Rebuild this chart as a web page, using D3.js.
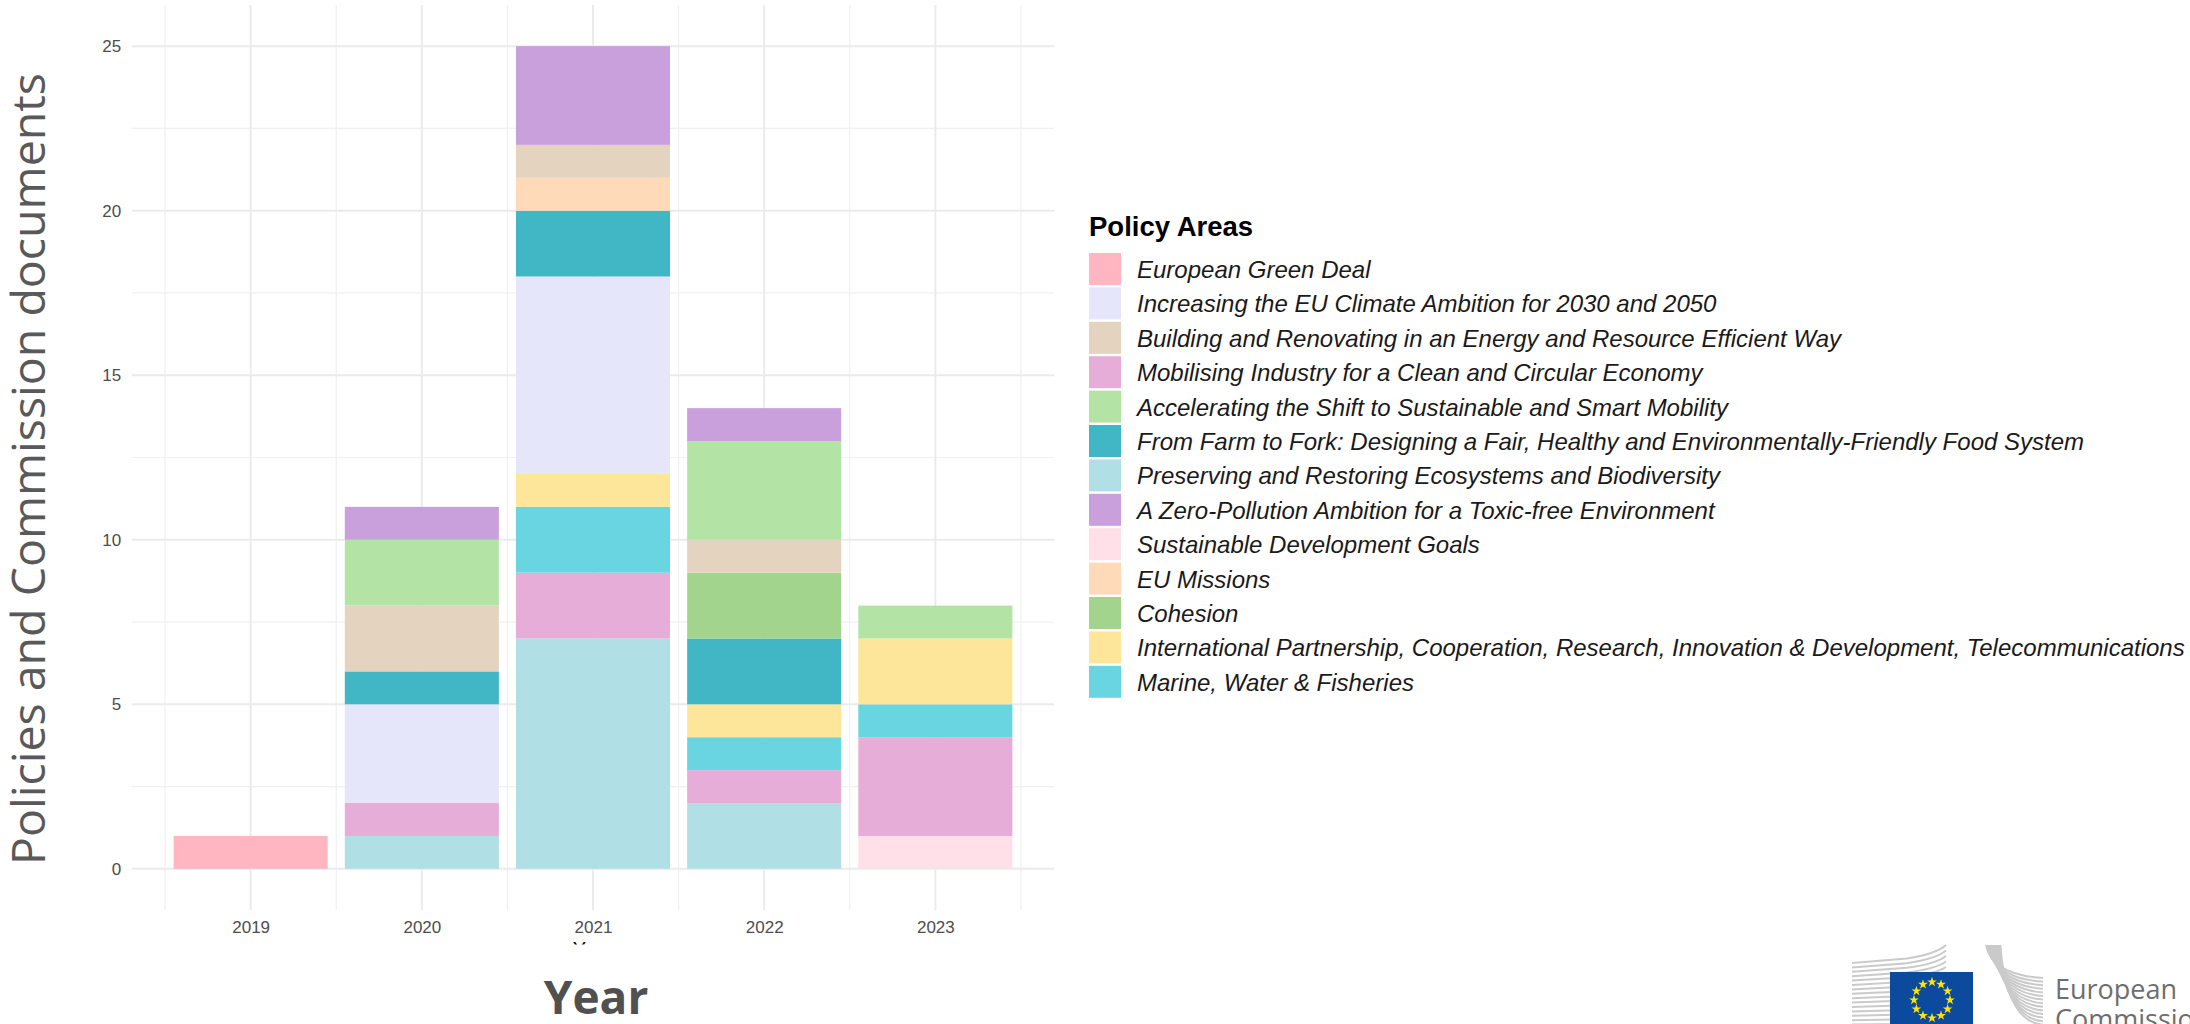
<!DOCTYPE html>
<meta charset="utf-8">
<style>
  body { margin: 0; background: #fff; }
  .tick text { font-family: "Liberation Sans", Arial, sans-serif; }
</style>
<body>
<script src="https://cdn.jsdelivr.net/npm/d3@7/dist/d3.min.js"></script>
<script>
  // legend order (as in the reference)
  var areas = [
    "European Green Deal",
    "Increasing the EU Climate Ambition for 2030 and 2050",
    "Building and Renovating in an Energy and Resource Efficient Way",
    "Mobilising Industry for a Clean and Circular Economy",
    "Accelerating the Shift to Sustainable and Smart Mobility",
    "From Farm to Fork: Designing a Fair, Healthy and Environmentally-Friendly Food System",
    "Preserving and Restoring Ecosystems and Biodiversity",
    "A Zero-Pollution Ambition for a Toxic-free Environment",
    "Sustainable Development Goals",
    "EU Missions",
    "Cohesion",
    "International Partnership, Cooperation, Research, Innovation & Development, Telecommunications",
    "Marine, Water & Fisheries"
  ];
  var colors = ["#FFB6C1", "#E6E6FA", "#E3D3BF", "#E6ADD8", "#B4E3A6", "#41B6C4", "#B0E0E6",
                "#C9A0DC", "#FFDFE8", "#FFDAB9", "#A3D48D", "#FDE699", "#68D5E1"];

  var years = [2019, 2020, 2021, 2022, 2023];

  // documents per year, one array per policy area (same order as areas)
  var counts = [
    [1, 0, 0, 0, 0],
    [0, 3, 6, 0, 0],
    [0, 2, 1, 1, 0],
    [0, 1, 2, 1, 3],
    [0, 2, 0, 3, 1],
    [0, 1, 2, 2, 0],
    [0, 1, 7, 2, 0],
    [0, 1, 3, 1, 0],
    [0, 0, 0, 0, 1],
    [0, 0, 1, 0, 0],
    [0, 0, 0, 2, 0],
    [0, 0, 1, 1, 2],
    [0, 0, 2, 1, 1]
  ];

  var yTicks = [0, 5, 10, 15, 20, 25];

  // ggplot stacks factor levels alphabetically, first level on top
  var stackOrder = areas.slice().sort(function (a, b) { return a < b ? -1 : a > b ? 1 : 0; }).reverse();

  var W = 2190, H = 1024;
  var svg = d3.select("body").append("svg").attr("width", W).attr("height", H);

  var panel = { left: 131.7, right: 1054.3, top: 5, bottom: 910 };

  var x = d3.scaleLinear().domain([2018.305, 2023.695]).range([panel.left, panel.right]);
  var y = d3.scaleLinear().domain([-1.25, 26.25]).range([panel.bottom, panel.top]);
  var color = d3.scaleOrdinal().domain(areas).range(colors);

  var g = svg.append("g");

  // grid: minor first, then major
  var minorY = d3.range(2.5, 26, 5);
  var minorX = years.map(function (d) { return d - 0.5; }).concat([2023.5]);

  g.selectAll(".minor-y").data(minorY).enter().append("line")
    .attr("x1", panel.left).attr("x2", panel.right)
    .attr("y1", y).attr("y2", y)
    .attr("stroke", "#f0f0f0").attr("stroke-width", 1.2);
  g.selectAll(".minor-x").data(minorX).enter().append("line")
    .attr("y1", panel.top).attr("y2", panel.bottom)
    .attr("x1", x).attr("x2", x)
    .attr("stroke", "#f0f0f0").attr("stroke-width", 1.2);
  g.selectAll(".major-y").data(yTicks).enter().append("line")
    .attr("x1", panel.left).attr("x2", panel.right)
    .attr("y1", y).attr("y2", y)
    .attr("stroke", "#ebebeb").attr("stroke-width", 2);
  g.selectAll(".major-x").data(years).enter().append("line")
    .attr("y1", panel.top).attr("y2", panel.bottom)
    .attr("x1", x).attr("x2", x)
    .attr("stroke", "#ebebeb").attr("stroke-width", 2);

  // stacked bars
  var table = years.map(function (yr, i) {
    var row = { year: yr };
    areas.forEach(function (a, k) { row[a] = counts[k][i]; });
    return row;
  });
  var series = d3.stack().keys(stackOrder)(table);
  var barW = x(2019.45) - x(2018.55);

  g.selectAll(".layer").data(series).enter().append("g")
    .attr("fill", function (d) { return color(d.key); })
    .selectAll("rect")
    .data(function (d) { return d.filter(function (s) { return s[1] > s[0]; }); })
    .enter().append("rect")
    .attr("x", function (d) { return x(d.data.year) - barW / 2; })
    .attr("width", barW)
    .attr("y", function (d) { return y(d[1]); })
    .attr("height", function (d) { return y(d[0]) - y(d[1]); });

  // axes (text only, like theme_minimal)
  var yAxis = g.append("g").attr("transform", "translate(" + (panel.left - 10.5) + ",0)")
    .call(d3.axisLeft(y).tickValues(yTicks).tickSize(0).tickPadding(0));
  var xAxis = g.append("g").attr("transform", "translate(0," + (panel.bottom + 5) + ")")
    .call(d3.axisBottom(x).tickValues(years).tickSize(0).tickPadding(6).tickFormat(d3.format("d")));
  [yAxis, xAxis].forEach(function (ax) {
    ax.select(".domain").remove();
    ax.selectAll("text").attr("font-size", 17).attr("fill", "#4d4d4d");
  });

  // original small x title, mostly hidden beneath the overlay
  svg.append("clipPath").attr("id", "cut").append("rect")
    .attr("x", 500).attr("y", 940).attr("width", 200).attr("height", 4.5);
  svg.append("text").attr("clip-path", "url(#cut)")
    .attr("x", (panel.left + panel.right) / 2).attr("y", 956)
    .attr("text-anchor", "middle")
    .attr("font-family", "Liberation Sans, Arial, sans-serif").attr("font-size", 20)
    .attr("fill", "#000").text("Year");

  // overlaid big axis titles
  svg.append("text")
    .attr("transform", "translate(45,469) rotate(-90)")
    .attr("text-anchor", "middle")
    .attr("font-family", "Open Sans, sans-serif").attr("font-size", 46.5)
    .attr("fill", "#595959")
    .text("Policies and Commission documents");
  svg.append("text")
    .attr("x", 596).attr("y", 1014)
    .attr("text-anchor", "middle")
    .attr("font-family", "Open Sans, sans-serif").attr("font-size", 46).attr("font-weight", 700)
    .attr("fill", "#505050")
    .text("Year");

  // legend
  var legend = svg.append("g").attr("transform", "translate(1089,0)");
  legend.append("text").attr("x", 0).attr("y", 236)
    .attr("font-family", "Liberation Sans, Arial, sans-serif").attr("font-size", 27.5).attr("font-weight", 700)
    .attr("fill", "#000").text("Policy Areas");
  var item = legend.selectAll(".item").data(areas).enter().append("g")
    .attr("transform", function (d, i) { return "translate(0," + (253 + i * 34.4) + ")"; });
  item.append("rect").attr("width", 32).attr("height", 32)
    .attr("fill", function (d) { return color(d); });
  item.append("text").attr("x", 48).attr("y", 25)
    .attr("font-family", "Liberation Sans, Arial, sans-serif").attr("font-size", 24)
    .attr("font-style", "italic").attr("fill", "#1a1a1a")
    .text(function (d) { return d; });

  // European Commission logo (bottom right, cut off by the page)
  var logo = svg.append("g");
  logo.selectAll(".ls").data(d3.range(15)).enter().append("path")
    .attr("d", function (i) {
      var y0 = 963 + i * 4.4, rise = 18 - i * 1.1;
      return "M1852," + y0 + " L1907," + (y0 - rise * 0.25) + " Q1936," + (y0 - rise * 0.5) + " 1946," + (y0 - rise);
    })
    .attr("fill", "none").attr("stroke", "#cacaca").attr("stroke-width", 2);
  logo.selectAll(".rs").data(d3.range(14)).enter().append("path")
    .attr("d", function (i) {
      var x0 = 1986 + i * 1.1, yEnd = 978 + i * 3.6;
      return "M" + x0 + ",945 Q" + (x0 + 6) + "," + (yEnd - 3) + " 2043," + yEnd;
    })
    .attr("fill", "none").attr("stroke", "#cacaca").attr("stroke-width", 2);
  logo.append("rect").attr("x", 1890).attr("y", 972).attr("width", 83).attr("height", 60)
    .attr("fill", "#0C4A9E");
  var star = d3.symbol().type(d3.symbolStar).size(30);
  logo.selectAll(".star").data(d3.range(12)).enter().append("path")
    .attr("d", star)
    .attr("transform", function (i) {
      var a = i * Math.PI / 6;
      return "translate(" + (1932 + 18 * Math.sin(a)) + "," + (1000 - 18 * Math.cos(a)) + ")";
    })
    .attr("fill", "#FFE500");
  logo.append("text").attr("x", 2055).attr("y", 999)
    .attr("font-family", "Open Sans, sans-serif").attr("font-size", 27).attr("fill", "#6e6e6e")
    .text("European");
  logo.append("text").attr("x", 2055).attr("y", 1029)
    .attr("font-family", "Open Sans, sans-serif").attr("font-size", 27).attr("fill", "#6e6e6e")
    .text("Commission");
</script>
</body>
